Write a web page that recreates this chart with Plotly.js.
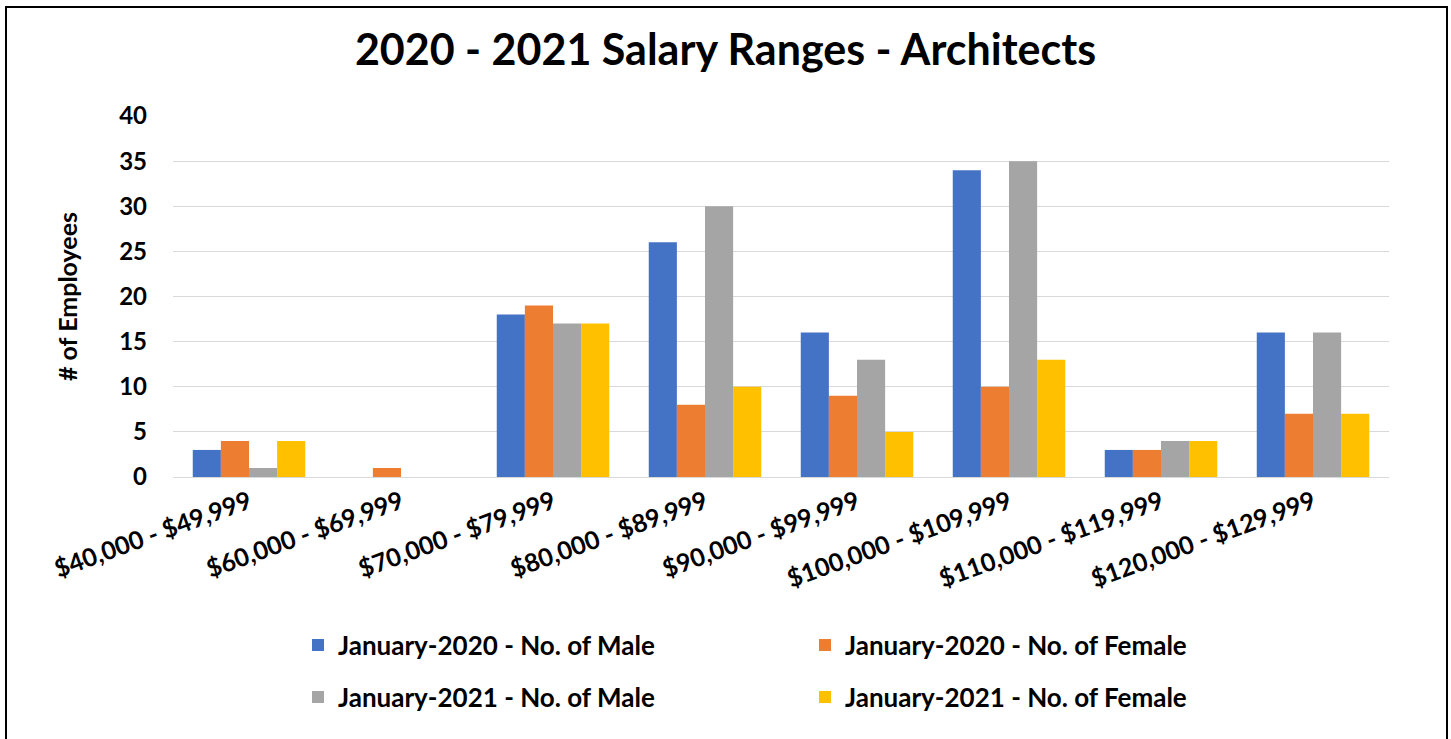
<!DOCTYPE html>
<html><head><meta charset="utf-8">
<script src="https://cdn.plot.ly/plotly-3.0.1.min.js"></script>
<style>html,body{margin:0;padding:0;background:#fff;}#c{width:1451px;height:739px;}</style>
</head><body><div id="c"></div>
<script>
const categories = ["$40,000 - $49,999","$60,000 - $69,999","$70,000 - $79,999","$80,000 - $89,999","$90,000 - $99,999","$100,000 - $109,999","$110,000 - $119,999","$120,000 - $129,999"];
const male2020 = [3, 0, 18, 26, 16, 34, 3, 16];
const female2020 = [4, 1, 19, 8, 9, 10, 3, 7];
const male2021 = [1, 0, 17, 30, 13, 35, 4, 16];
const female2021 = [4, 0, 17, 10, 5, 13, 4, 7];
const seriesNames = ["January-2020 - No. of Male","January-2020 - No. of Female","January-2021 - No. of Male","January-2021 - No. of Female"];
const colors = ["#4472C4","#ED7D31","#A5A5A5","#FFC000"];

const FONT = "Lato, 'Open Sans', sans-serif";
const vals = [male2020, female2020, male2021, female2021];
const legends = ["legend","legend","legend2","legend2"];
const traces = vals.map((v,i)=>({
  type:"bar", x:categories, y:v, name:seriesNames[i],
  marker:{color:colors[i]}, legend:legends[i], hoverinfo:"x+y+name"
}));

const W=1451,H=739, L=173, R=62, T=116, B=262;
const pw=W-L-R, ph=H-T-B;
const px = x => (x-L)/pw, py = y => (H-B-y)/ph;

const legFont = {size:26,family:FONT,color:"#000",weight:"bold"};
const layout = {
  width:W, height:H,
  margin:{l:L,r:R,t:T,b:B},
  paper_bgcolor:"#fff", plot_bgcolor:"#fff",
  font:{family:FONT, color:"#000", size:20},
  title:{text:"<b>2020 - 2021 Salary Ranges - Architects</b>", font:{size:43,family:FONT,color:"#000"}, x:0.5, xanchor:"center", xref:"container", y:1-50/H, yref:"container", yanchor:"middle"},
  barmode:"group", bargap:0.26, bargroupgap:0,
  xaxis:{tickangle:-20, tickfont:{size:25,family:FONT,color:"#000",weight:"bold"}, showline:true, linecolor:"#d9d9d9", linewidth:1, ticks:"", showgrid:false, fixedrange:true},
  yaxis:{range:[0,40], dtick:5, tickfont:{size:24,family:FONT,color:"#000",weight:"bold"}, gridcolor:"#d9d9d9", gridwidth:1, zeroline:false, showline:false, ticks:"", ticklabelstandoff:25,
    title:{text:"<b># of Employees</b>", font:{size:25,family:FONT,color:"#000"}, standoff:34}},
  legend:{orientation:"h", x:px(298), xanchor:"left", y:py(645), yanchor:"middle", font:legFont, entrywidth:462, entrywidthmode:"pixels", itemwidth:30, bgcolor:"rgba(0,0,0,0)"},
  legend2:{orientation:"h", x:px(298), xanchor:"left", y:py(697), yanchor:"middle", font:legFont, entrywidth:462, entrywidthmode:"pixels", itemwidth:30, bgcolor:"rgba(0,0,0,0)"},
  shapes:[{type:"rect", xref:"paper", yref:"paper", x0:px(6), x1:px(1447), y0:py(760), y1:py(7), line:{color:"#000",width:2}, fillcolor:"rgba(0,0,0,0)", layer:"above"}]
};
Plotly.newPlot("c", traces, layout, {displayModeBar:false, staticPlot:true});
</script></body></html>
